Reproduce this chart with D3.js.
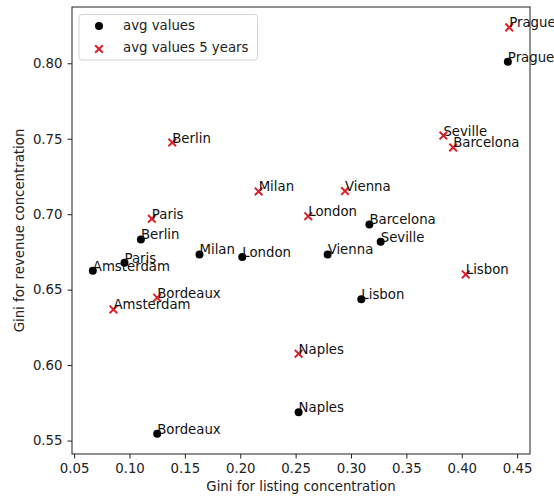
<!DOCTYPE html>
<html>
<head>
<meta charset="utf-8">
<script src="https://cdn.jsdelivr.net/npm/d3@7"></script>
<style>
  html, body { margin: 0; padding: 0; background: #fff; }
  svg { display: block; font-family: "DejaVu Sans", sans-serif; }
</style>
</head>
<body>
<svg id="chart" width="554" height="498"></svg>
<script>
// ---- data ----
const cities = ["Amsterdam", "Paris", "Berlin", "Milan", "London", "Bordeaux",
                "Vienna", "Lisbon", "Naples", "Barcelona", "Seville", "Prague"];
const avgListing   = [0.0669, 0.0955, 0.1103, 0.1632, 0.2018, 0.1250, 0.2789, 0.3093, 0.2527, 0.3166, 0.3268, 0.4416];
const avgRevenue   = [0.6626, 0.6679, 0.6833, 0.6733, 0.6716, 0.5546, 0.6733, 0.6436, 0.5687, 0.6932, 0.6818, 0.8011];
const avg5Listing  = [0.0855, 0.1202, 0.1386, 0.2166, 0.2614, 0.1250, 0.2946, 0.4036, 0.2527, 0.3922, 0.3834, 0.4428];
const avg5Revenue  = [0.6369, 0.6970, 0.7475, 0.7151, 0.6987, 0.6447, 0.7153, 0.6601, 0.6076, 0.7442, 0.7521, 0.8238];
const xTicks = [0.05, 0.10, 0.15, 0.20, 0.25, 0.30, 0.35, 0.40, 0.45];
const yTicks = [0.55, 0.60, 0.65, 0.70, 0.75, 0.80];
const seriesNames = ["avg values", "avg values 5 years"];
const xLabel = "Gini for listing concentration";
const yLabel = "Gini for revenue concentration";

// ---- layout ----
const L = 72, R = 530, T = 7, B = 454;
const FS = 13.3;
const RED = "#dc1f26";

const svg = d3.select("#chart");
svg.append("rect").attr("width", 554).attr("height", 498).attr("fill", "#fff");

const x = d3.scaleLinear().domain([0.0481, 0.4616]).range([L, R]);
const y = d3.scaleLinear().domain([0.5411, 0.8373]).range([B, T]);

const fmt = d3.format(".2f");

// axes
const gx = svg.append("g").attr("transform", `translate(0,${B})`)
  .call(d3.axisBottom(x).tickValues(xTicks).tickFormat(fmt).tickSize(4.5).tickPadding(5));
const gy = svg.append("g").attr("transform", `translate(${L},0)`)
  .call(d3.axisLeft(y).tickValues(yTicks).tickFormat(fmt).tickSize(4.5).tickPadding(5));
[gx, gy].forEach(g => {
  g.select(".domain").remove();
  g.selectAll(".tick line").attr("stroke", "#222").attr("stroke-width", 1);
  g.selectAll(".tick text").attr("fill", "#222")
    .style("font-family", "DejaVu Sans").style("font-size", FS + "px");
});

// frame
svg.append("rect").attr("x", L).attr("y", T).attr("width", R - L).attr("height", B - T)
  .attr("fill", "none").attr("stroke", "#222").attr("stroke-width", 1);

// axis labels
svg.append("text").attr("x", (L + R) / 2).attr("y", 491)
  .attr("text-anchor", "middle").attr("fill", "#222").style("font-size", FS + "px")
  .text(xLabel);
svg.append("text").attr("transform", `translate(24,${(T + B) / 2}) rotate(-90)`)
  .attr("text-anchor", "middle").attr("fill", "#222").style("font-size", FS + "px")
  .text(yLabel);

// markers
const avgData = cities.map((c, i) => ({ c, x: avgListing[i], y: avgRevenue[i] }));
const avg5Data = cities.map((c, i) => ({ c, x: avg5Listing[i], y: avg5Revenue[i] }));

function cross(g, cx, cy, s) {
  g.append("path")
    .attr("d", `M${cx - s},${cy - s}L${cx + s},${cy + s}M${cx - s},${cy + s}L${cx + s},${cy - s}`)
    .attr("stroke", RED).attr("stroke-width", 2).attr("fill", "none");
}

const gm = svg.append("g");
avgData.forEach(d => {
  gm.append("circle").attr("cx", x(d.x)).attr("cy", y(d.y)).attr("r", 4).attr("fill", "#000");
});
avg5Data.forEach(d => cross(gm, x(d.x), y(d.y), 3.8));

// annotations
const gt = svg.append("g").style("font-size", FS + "px").attr("fill", "#111");
avgData.concat(avg5Data).forEach(d => {
  gt.append("text").attr("x", x(d.x)).attr("y", y(d.y)).text(d.c);
});

// legend
const lg = svg.append("g");
lg.append("rect").attr("x", 79).attr("y", 14.5).attr("width", 178.5).attr("height", 45.5)
  .attr("rx", 3).attr("fill", "#fff").attr("fill-opacity", 0.8)
  .attr("stroke", "#d4d4d4").attr("stroke-width", 1);
lg.append("circle").attr("cx", 99).attr("cy", 26).attr("r", 4).attr("fill", "#000");
cross(lg, 99, 49, 3.8);
lg.selectAll("text.lt").data(seriesNames).join("text").attr("class", "lt")
  .attr("x", 123).attr("y", (d, i) => 30 + i * 22)
  .attr("fill", "#222").style("font-size", FS + "px").text(d => d);
</script>
</body>
</html>
